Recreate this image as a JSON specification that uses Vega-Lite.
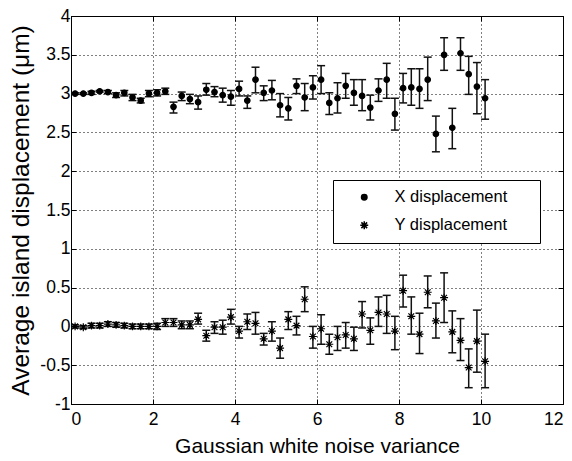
{
  "$schema": "https://vega.github.io/schema/vega-lite/v6.json",
  "width": 492,
  "height": 388,
  "autosize": {"type": "none"},
  "padding": {"left": 71, "top": 16, "right": 9, "bottom": 57},
  "background": "white",
  "config": {
    "view": {"stroke": "black", "strokeWidth": 1},
    "axis": {
      "domainColor": "black",
      "tickColor": "black",
      "labelColor": "black",
      "titleColor": "black",
      "labelFont": "Liberation Sans Narrow, Liberation Sans",
      "labelFontSize": 17.5,
      "titleFont": "Liberation Sans",
      "titleFontSize": 21,
      "titleFontWeight": "normal"
    }
  },
  "data": {
    "values": [
      {"series": "X displacement", "x": 0.1, "y": 3.00, "lo": 2.99, "hi": 3.01},
      {"series": "X displacement", "x": 0.3, "y": 3.00, "lo": 2.99, "hi": 3.01},
      {"series": "X displacement", "x": 0.5, "y": 3.01, "lo": 2.99, "hi": 3.03},
      {"series": "X displacement", "x": 0.7, "y": 3.03, "lo": 3.02, "hi": 3.04},
      {"series": "X displacement", "x": 0.9, "y": 3.02, "lo": 3.00, "hi": 3.04},
      {"series": "X displacement", "x": 1.1, "y": 2.98, "lo": 2.95, "hi": 3.01},
      {"series": "X displacement", "x": 1.3, "y": 3.01, "lo": 2.97, "hi": 3.04},
      {"series": "X displacement", "x": 1.5, "y": 2.95, "lo": 2.91, "hi": 2.99},
      {"series": "X displacement", "x": 1.7, "y": 2.91, "lo": 2.88, "hi": 2.94},
      {"series": "X displacement", "x": 1.9, "y": 3.00, "lo": 2.96, "hi": 3.04},
      {"series": "X displacement", "x": 2.1, "y": 3.01, "lo": 2.97, "hi": 3.05},
      {"series": "X displacement", "x": 2.3, "y": 3.03, "lo": 2.99, "hi": 3.07},
      {"series": "X displacement", "x": 2.5, "y": 2.83, "lo": 2.75, "hi": 2.89},
      {"series": "X displacement", "x": 2.7, "y": 2.97, "lo": 2.91, "hi": 3.02},
      {"series": "X displacement", "x": 2.9, "y": 2.93, "lo": 2.87, "hi": 2.99},
      {"series": "X displacement", "x": 3.1, "y": 2.89, "lo": 2.80, "hi": 2.97},
      {"series": "X displacement", "x": 3.3, "y": 3.05, "lo": 2.98, "hi": 3.13},
      {"series": "X displacement", "x": 3.5, "y": 3.02, "lo": 2.96, "hi": 3.09},
      {"series": "X displacement", "x": 3.7, "y": 2.98, "lo": 2.89, "hi": 3.07},
      {"series": "X displacement", "x": 3.9, "y": 2.96, "lo": 2.85, "hi": 3.04},
      {"series": "X displacement", "x": 4.1, "y": 3.06, "lo": 2.97, "hi": 3.16},
      {"series": "X displacement", "x": 4.3, "y": 2.91, "lo": 2.81, "hi": 2.97},
      {"series": "X displacement", "x": 4.5, "y": 3.18, "lo": 3.01, "hi": 3.34},
      {"series": "X displacement", "x": 4.7, "y": 3.01, "lo": 2.91, "hi": 3.10},
      {"series": "X displacement", "x": 4.9, "y": 3.04, "lo": 2.92, "hi": 3.17},
      {"series": "X displacement", "x": 5.1, "y": 2.85, "lo": 2.70, "hi": 3.00},
      {"series": "X displacement", "x": 5.3, "y": 2.81, "lo": 2.66, "hi": 2.95},
      {"series": "X displacement", "x": 5.5, "y": 3.10, "lo": 3.00, "hi": 3.19},
      {"series": "X displacement", "x": 5.7, "y": 2.95, "lo": 2.78, "hi": 3.13},
      {"series": "X displacement", "x": 5.9, "y": 3.08, "lo": 2.93, "hi": 3.23},
      {"series": "X displacement", "x": 6.1, "y": 3.18, "lo": 3.00, "hi": 3.36},
      {"series": "X displacement", "x": 6.3, "y": 2.88, "lo": 2.73, "hi": 3.01},
      {"series": "X displacement", "x": 6.5, "y": 2.94, "lo": 2.75, "hi": 3.14},
      {"series": "X displacement", "x": 6.7, "y": 3.10, "lo": 2.94, "hi": 3.26},
      {"series": "X displacement", "x": 6.9, "y": 3.01, "lo": 2.85, "hi": 3.18},
      {"series": "X displacement", "x": 7.1, "y": 2.97, "lo": 2.78, "hi": 3.18},
      {"series": "X displacement", "x": 7.3, "y": 2.82, "lo": 2.66, "hi": 2.98},
      {"series": "X displacement", "x": 7.5, "y": 3.04, "lo": 2.90, "hi": 3.19},
      {"series": "X displacement", "x": 7.7, "y": 3.18, "lo": 2.94, "hi": 3.39},
      {"series": "X displacement", "x": 7.9, "y": 2.74, "lo": 2.53, "hi": 2.94},
      {"series": "X displacement", "x": 8.1, "y": 3.07, "lo": 2.88, "hi": 3.26},
      {"series": "X displacement", "x": 8.3, "y": 3.08, "lo": 2.85, "hi": 3.32},
      {"series": "X displacement", "x": 8.5, "y": 3.06, "lo": 2.81, "hi": 3.32},
      {"series": "X displacement", "x": 8.7, "y": 3.18, "lo": 2.91, "hi": 3.47},
      {"series": "X displacement", "x": 8.9, "y": 2.48, "lo": 2.25, "hi": 2.71},
      {"series": "X displacement", "x": 9.1, "y": 3.50, "lo": 3.30, "hi": 3.72},
      {"series": "X displacement", "x": 9.3, "y": 2.56, "lo": 2.29, "hi": 2.81},
      {"series": "X displacement", "x": 9.5, "y": 3.52, "lo": 3.30, "hi": 3.72},
      {"series": "X displacement", "x": 9.7, "y": 3.25, "lo": 2.99, "hi": 3.48},
      {"series": "X displacement", "x": 9.9, "y": 3.09, "lo": 2.74, "hi": 3.40},
      {"series": "X displacement", "x": 10.1, "y": 2.94, "lo": 2.67, "hi": 3.18},
      {"series": "Y displacement", "x": 0.1, "y": 0.00, "lo": -0.02, "hi": 0.02},
      {"series": "Y displacement", "x": 0.3, "y": -0.01, "lo": -0.03, "hi": 0.01},
      {"series": "Y displacement", "x": 0.5, "y": 0.01, "lo": -0.02, "hi": 0.04},
      {"series": "Y displacement", "x": 0.7, "y": 0.01, "lo": -0.02, "hi": 0.04},
      {"series": "Y displacement", "x": 0.9, "y": 0.03, "lo": 0.00, "hi": 0.06},
      {"series": "Y displacement", "x": 1.1, "y": 0.02, "lo": -0.01, "hi": 0.05},
      {"series": "Y displacement", "x": 1.3, "y": 0.01, "lo": -0.02, "hi": 0.04},
      {"series": "Y displacement", "x": 1.5, "y": 0.00, "lo": -0.03, "hi": 0.03},
      {"series": "Y displacement", "x": 1.7, "y": 0.00, "lo": -0.03, "hi": 0.03},
      {"series": "Y displacement", "x": 1.9, "y": 0.00, "lo": -0.03, "hi": 0.03},
      {"series": "Y displacement", "x": 2.1, "y": 0.00, "lo": -0.04, "hi": 0.04},
      {"series": "Y displacement", "x": 2.3, "y": 0.05, "lo": 0.00, "hi": 0.10},
      {"series": "Y displacement", "x": 2.5, "y": 0.05, "lo": 0.00, "hi": 0.10},
      {"series": "Y displacement", "x": 2.7, "y": 0.02, "lo": -0.03, "hi": 0.07},
      {"series": "Y displacement", "x": 2.9, "y": 0.02, "lo": -0.03, "hi": 0.07},
      {"series": "Y displacement", "x": 3.1, "y": 0.09, "lo": 0.03, "hi": 0.17},
      {"series": "Y displacement", "x": 3.3, "y": -0.12, "lo": -0.19, "hi": -0.05},
      {"series": "Y displacement", "x": 3.5, "y": -0.01, "lo": -0.09, "hi": 0.06},
      {"series": "Y displacement", "x": 3.7, "y": -0.01, "lo": -0.10, "hi": 0.08},
      {"series": "Y displacement", "x": 3.9, "y": 0.12, "lo": 0.03, "hi": 0.22},
      {"series": "Y displacement", "x": 4.1, "y": -0.06, "lo": -0.15, "hi": 0.00},
      {"series": "Y displacement", "x": 4.3, "y": 0.06, "lo": -0.04, "hi": 0.16},
      {"series": "Y displacement", "x": 4.5, "y": 0.04, "lo": -0.10, "hi": 0.18},
      {"series": "Y displacement", "x": 4.7, "y": -0.16, "lo": -0.24, "hi": -0.09},
      {"series": "Y displacement", "x": 4.9, "y": -0.06, "lo": -0.19, "hi": 0.06},
      {"series": "Y displacement", "x": 5.1, "y": -0.28, "lo": -0.41, "hi": -0.15},
      {"series": "Y displacement", "x": 5.3, "y": 0.09, "lo": -0.04, "hi": 0.19},
      {"series": "Y displacement", "x": 5.5, "y": 0.01, "lo": -0.11, "hi": 0.13},
      {"series": "Y displacement", "x": 5.7, "y": 0.35, "lo": 0.19, "hi": 0.51},
      {"series": "Y displacement", "x": 5.9, "y": -0.13, "lo": -0.28, "hi": 0.00},
      {"series": "Y displacement", "x": 6.1, "y": -0.03, "lo": -0.23, "hi": 0.15},
      {"series": "Y displacement", "x": 6.3, "y": -0.23, "lo": -0.36, "hi": -0.10},
      {"series": "Y displacement", "x": 6.5, "y": -0.14, "lo": -0.31, "hi": 0.00},
      {"series": "Y displacement", "x": 6.7, "y": -0.11, "lo": -0.28, "hi": 0.05},
      {"series": "Y displacement", "x": 6.9, "y": -0.16, "lo": -0.31, "hi": -0.01},
      {"series": "Y displacement", "x": 7.1, "y": 0.16, "lo": -0.02, "hi": 0.32},
      {"series": "Y displacement", "x": 7.3, "y": -0.05, "lo": -0.23, "hi": 0.11},
      {"series": "Y displacement", "x": 7.5, "y": 0.18, "lo": 0.00, "hi": 0.38},
      {"series": "Y displacement", "x": 7.7, "y": 0.16, "lo": -0.09, "hi": 0.40},
      {"series": "Y displacement", "x": 7.9, "y": -0.06, "lo": -0.30, "hi": 0.13},
      {"series": "Y displacement", "x": 8.1, "y": 0.46, "lo": 0.25, "hi": 0.66},
      {"series": "Y displacement", "x": 8.3, "y": 0.13, "lo": -0.10, "hi": 0.38},
      {"series": "Y displacement", "x": 8.5, "y": -0.10, "lo": -0.35, "hi": 0.17},
      {"series": "Y displacement", "x": 8.7, "y": 0.44, "lo": 0.24, "hi": 0.65},
      {"series": "Y displacement", "x": 8.9, "y": 0.07, "lo": -0.15, "hi": 0.30},
      {"series": "Y displacement", "x": 9.1, "y": 0.37, "lo": 0.05, "hi": 0.69},
      {"series": "Y displacement", "x": 9.3, "y": -0.07, "lo": -0.34, "hi": 0.20},
      {"series": "Y displacement", "x": 9.5, "y": -0.18, "lo": -0.44, "hi": 0.10},
      {"series": "Y displacement", "x": 9.7, "y": -0.53, "lo": -0.79, "hi": -0.29},
      {"series": "Y displacement", "x": 9.9, "y": -0.19, "lo": -0.59, "hi": 0.21},
      {"series": "Y displacement", "x": 10.1, "y": -0.45, "lo": -0.79, "hi": -0.10}
    ]
  },
  "resolve": {"axis": {"x": "independent", "y": "independent"}},
  "layer": [
    {
      "mark": {"type": "rule", "color": "#111", "strokeWidth": 1.5},
      "encoding": {
        "x": {
          "field": "x", "type": "quantitative",
          "scale": {"domain": [0, 12], "nice": false},
          "axis": {
            "orient": "bottom",
            "values": [0, 2, 4, 6, 8, 10, 12],
            "grid": true, "gridDash": [1, 3], "gridColor": "#000", "gridOpacity": 1,
            "tickSize": -5, "labelPadding": 11,
            "labelExpr": "'' + datum.value",
            "title": "Gaussian white noise variance",
            "titlePadding": 8
          }
        },
        "y": {
          "field": "lo", "type": "quantitative",
          "scale": {"domain": [-1, 4], "nice": false},
          "axis": {
            "orient": "left",
            "values": [-1, -0.5, 0, 0.5, 1, 1.5, 2, 2.5, 3, 3.5, 4],
            "grid": true, "gridDash": [1, 3], "gridColor": "#000", "gridOpacity": 1,
            "tickSize": -5, "labelPadding": 6,
            "labelExpr": "'' + datum.value",
            "title": "Average island displacement (μm)",
            "titleFontSize": 24.5,
            "titlePadding": 6
          }
        },
        "y2": {"field": "hi"}
      }
    },
    {
      "mark": {"type": "tick", "orient": "horizontal", "size": 8, "thickness": 1.5, "color": "#111", "opacity": 1},
      "encoding": {
        "x": {"field": "x", "type": "quantitative", "axis": null},
        "y": {"field": "lo", "type": "quantitative", "axis": null}
      }
    },
    {
      "mark": {"type": "tick", "orient": "horizontal", "size": 8, "thickness": 1.5, "color": "#111", "opacity": 1},
      "encoding": {
        "x": {"field": "x", "type": "quantitative", "axis": null},
        "y": {"field": "hi", "type": "quantitative", "axis": null}
      }
    },
    {
      "mark": {"type": "point", "filled": true, "fill": "black", "stroke": "black", "strokeWidth": 1.2, "size": 30, "opacity": 1},
      "encoding": {
        "x": {
          "field": "x", "type": "quantitative",
          "axis": {"orient": "top", "values": [0, 2, 4, 6, 8, 10, 12], "labels": false, "grid": false, "domain": false, "tickSize": -5, "title": null}
        },
        "y": {
          "field": "y", "type": "quantitative",
          "axis": {"orient": "right", "values": [-1, -0.5, 0, 0.5, 1, 1.5, 2, 2.5, 3, 3.5, 4], "labels": false, "grid": false, "domain": false, "tickSize": -5, "title": null}
        },
        "shape": {
          "field": "series", "type": "nominal",
          "scale": {
            "domain": ["X displacement", "Y displacement"],
            "range": ["circle", "M-1.45,0L1.45,0M0,-1.45L0,1.45M-1.05,-1.05L1.05,1.05M-1.05,1.05L1.05,-1.05"]
          },
          "legend": {
            "orient": "none", "legendX": 262, "legendY": 164,
            "title": null,
            "strokeColor": "black", "fillColor": "white", "padding": 9,
            "labelFont": "Liberation Sans", "labelFontSize": 16.5, "labelColor": "black",
            "labelExpr": "datum.label + '\u00a0\u00a0\u00a0\u00a0\u00a0\u200b'",
            "symbolOffset": 14, "labelOffset": 22, "rowPadding": 11,
            "symbolSize": 30,
            "encode": {
              "symbols": {
                "update": {
                  "fill": {"value": "black"},
                  "stroke": {"value": "black"},
                  "strokeWidth": {"value": 1.2},
                  "opacity": {"value": 1}
                }
              }
            }
          }
        }
      }
    }
  ]
}
